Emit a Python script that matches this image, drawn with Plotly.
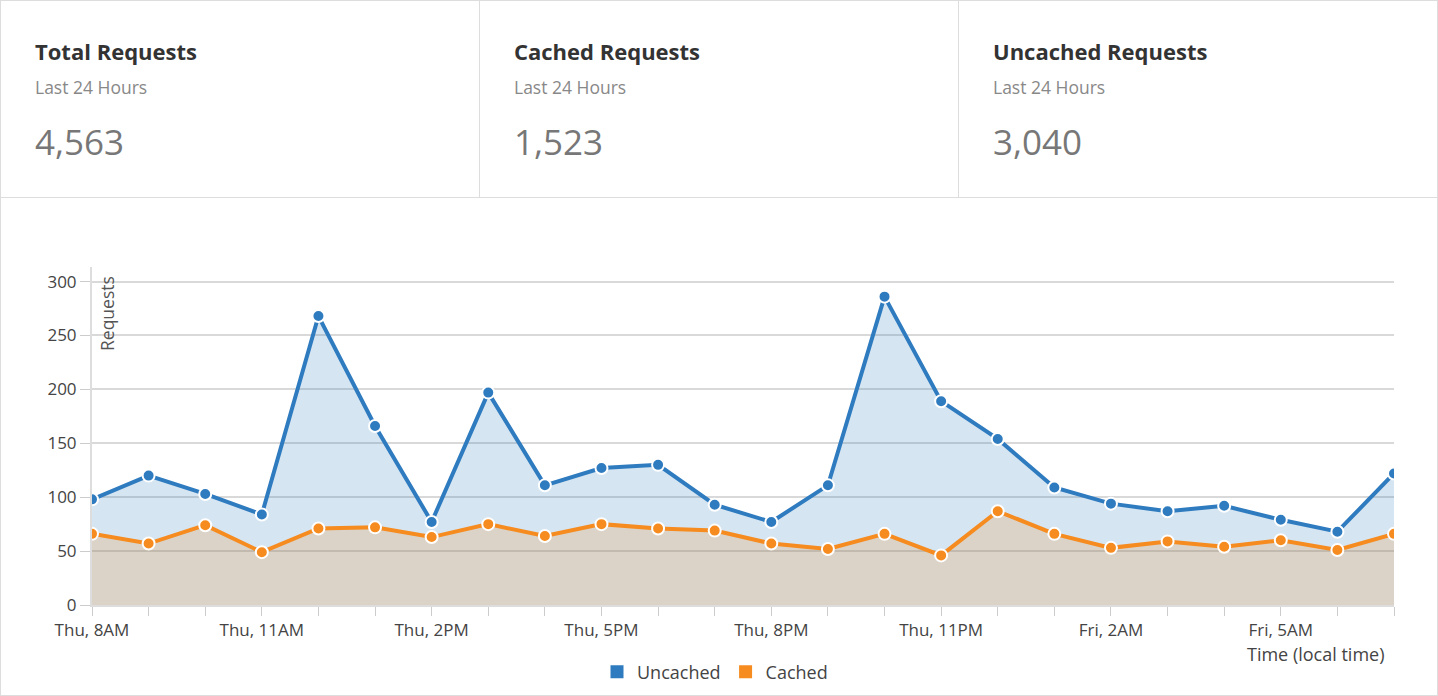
import plotly.graph_objects as go

W, H = 1438, 696

hours = ["Thu, 8AM", "Thu, 9AM", "Thu, 10AM", "Thu, 11AM", "Thu, 12PM", "Thu, 1PM",
         "Thu, 2PM", "Thu, 3PM", "Thu, 4PM", "Thu, 5PM", "Thu, 6PM", "Thu, 7PM",
         "Thu, 8PM", "Thu, 9PM", "Thu, 10PM", "Thu, 11PM", "Fri, 12AM", "Fri, 1AM",
         "Fri, 2AM", "Fri, 3AM", "Fri, 4AM", "Fri, 5AM", "Fri, 6AM", "Fri, 7AM"]
uncached = [98, 120, 103, 84, 268, 166, 77, 197, 111, 127, 130, 93,
            77, 111, 286, 189, 154, 109, 94, 87, 92, 79, 68, 122]
cached = [66, 57, 74, 49, 71, 72, 63, 75, 64, 75, 71, 69,
          57, 52, 66, 46, 87, 66, 53, 59, 54, 60, 51, 66]
tick_labels = [h if i % 3 == 0 else "" for i, h in enumerate(hours)]
y_ticks = [0, 50, 100, 150, 200, 250, 300]

cards = [("Total Requests", "Last 24 Hours", "4,563"),
         ("Cached Requests", "Last 24 Hours", "1,523"),
         ("Uncached Requests", "Last 24 Hours", "3,040")]

BLUE = "#2f7bbf"
ORANGE = "#f68b1f"
FONT = "Open Sans"

def px(x):
    return x / W

def py(y):
    return 1 - y / H

fig = go.Figure()

fig.add_trace(go.Scatter(
    x=hours, y=uncached, name="Uncached", mode="lines+markers",
    fill="tozeroy", fillcolor="rgba(47,123,191,0.2)",
    line=dict(color=BLUE, width=4),
    marker=dict(size=12, color=BLUE, line=dict(color="white", width=2)),
    showlegend=False, hoverinfo="x+y"))
fig.add_trace(go.Scatter(
    x=hours, y=cached, name="Cached", mode="lines+markers",
    fill="tozeroy", fillcolor="rgba(246,139,31,0.2)",
    line=dict(color=ORANGE, width=4),
    marker=dict(size=12, color=ORANGE, line=dict(color="white", width=2)),
    showlegend=False, hoverinfo="x+y"))

# legend entries (square swatches)
for name, col in [("Uncached", BLUE), ("Cached", ORANGE)]:
    fig.add_trace(go.Scatter(x=[None], y=[None], name=name, mode="markers",
                             marker=dict(symbol="square", size=13, color=col)))

annotations = []
shapes = []
card_x = [34, 513, 992]
for (title, sub, val), cx in zip(cards, card_x):
    annotations.append(dict(x=px(cx - 1), y=py(51), xref="paper", yref="paper",
                            text="<b>%s</b>" % title, showarrow=False,
                            xanchor="left", yanchor="middle",
                            font=dict(family=FONT, size=22, color="#333333")))
    annotations.append(dict(x=px(cx - 1), y=py(87), xref="paper", yref="paper",
                            text=sub, showarrow=False,
                            xanchor="left", yanchor="middle",
                            font=dict(family=FONT, size=17.5, color="#888888")))
    annotations.append(dict(x=px(cx - 1), y=py(141), xref="paper", yref="paper",
                            text=val, showarrow=False,
                            xanchor="left", yanchor="middle",
                            font=dict(family=FONT, size=35, color="#777777")))

annotations.append(dict(x=px(107), y=py(314), xref="paper", yref="paper",
                        text="Requests", textangle=-90, showarrow=False,
                        xanchor="center", yanchor="middle",
                        font=dict(family=FONT, size=17.5, color="#555555")))
annotations.append(dict(x=px(1386), y=py(654), xref="paper", yref="paper",
                        text="Time (local time)", showarrow=False,
                        xanchor="right", yanchor="middle",
                        font=dict(family=FONT, size=18, color="#444444")))

line_col = "#dddddd"
shapes.append(dict(type="rect", xref="paper", yref="paper", x0=0, x1=1, y0=0, y1=1,
                   line=dict(color=line_col, width=2)))
for xv in [479.5, 958.5]:
    shapes.append(dict(type="line", xref="paper", yref="paper",
                       x0=px(xv), x1=px(xv), y0=py(0), y1=py(197.5),
                       line=dict(color=line_col, width=1)))
shapes.append(dict(type="line", xref="paper", yref="paper",
                   x0=0, x1=1, y0=py(197.5), y1=py(197.5),
                   line=dict(color=line_col, width=1)))

fig.update_layout(
    width=W, height=H,
    margin=dict(l=0, r=0, t=0, b=0, autoexpand=False),
    paper_bgcolor="white", plot_bgcolor="white",
    font=dict(family=FONT, color="#444444"),
    xaxis=dict(type="category", domain=[px(92), px(1394)], range=[0, 23],
               tickmode="array", tickvals=hours, ticktext=tick_labels,
               ticks="outside", ticklen=9, tickcolor="#cccccc", tickwidth=1,
               showline=True, linecolor="#dddddd", linewidth=2,
               showgrid=False, zeroline=False,
               tickfont=dict(family=FONT, size=17, color="#444444")),
    yaxis=dict(domain=[py(605), py(267)], range=[0, 313.5],
               tickmode="array", tickvals=y_ticks,
               ticks="outside", ticklen=10, tickcolor="#cccccc", tickwidth=1,
               showline=True, linecolor="#dddddd", linewidth=2,
               showgrid=True, gridcolor="#d9d9d9", gridwidth=2, zeroline=False,
               tickfont=dict(family=FONT, size=17, color="#444444")),
    legend=dict(orientation="h", x=0.5 - 4 / W, xanchor="center", y=py(672), yanchor="middle",
                font=dict(family=FONT, size=18, color="#444444"),
                bgcolor="rgba(0,0,0,0)"),
    annotations=annotations, shapes=shapes,
)

fig.write_html("out.html")
